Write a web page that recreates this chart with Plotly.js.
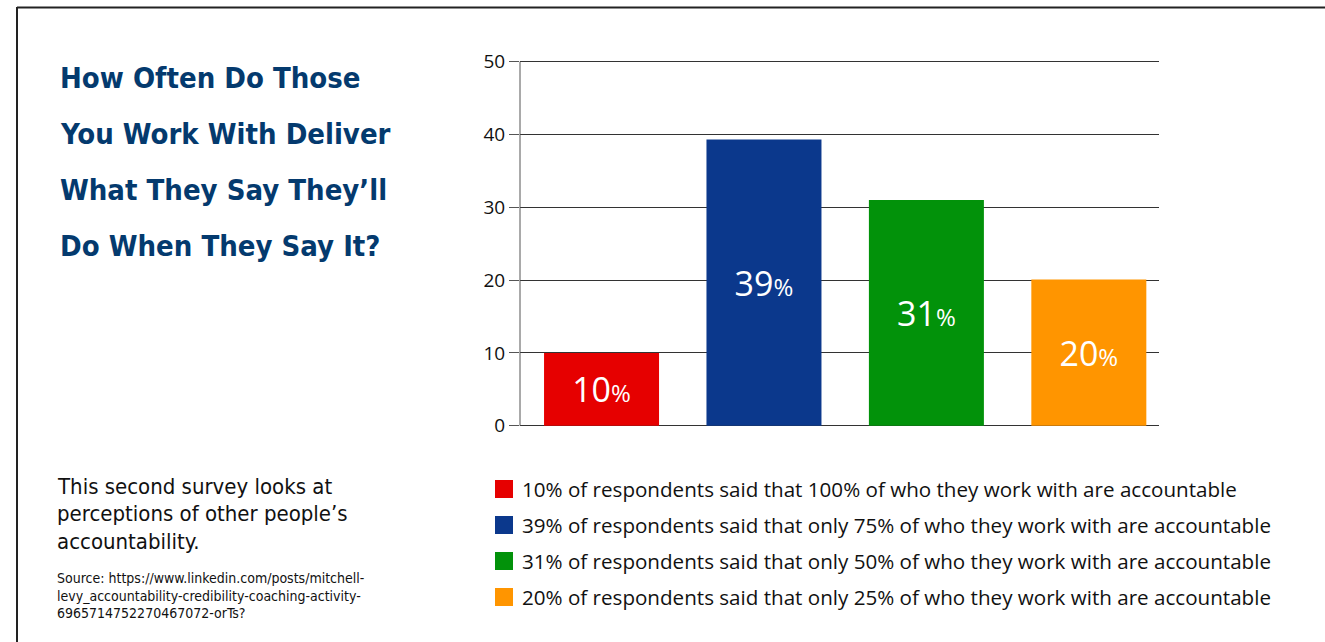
<!DOCTYPE html>
<html>
<head>
<meta charset="utf-8">
<script src="https://cdn.plot.ly/plotly-3.0.1.min.js"></script>
<style>html,body{margin:0;padding:0;background:#fff;}#chart{width:1325px;height:642px;}</style>
</head>
<body>
<div id="chart"></div>
<script>
// ---- data ----
const categories = ["All (100%)", "Only 75%", "Only 50%", "Only 25%"];
const values = [10, 39.3, 31, 20.1];
const barLabels = ["10", "39", "31", "20"];
const barColors = ["#E60000", "#0B388C", "#02920A", "#FF9500"];
const legendLabels = [
  "10% of respondents said that 100% of who they work with are accountable",
  "39% of respondents said that only 75% of who they work with are accountable",
  "31% of respondents said that only 50% of who they work with are accountable",
  "20% of respondents said that only 25% of who they work with are accountable"
];
const yTicks = [0, 10, 20, 30, 40, 50];
const titleLines = ["How Often Do Those", "You Work With Deliver", "What They Say They’ll", "Do When They Say It?"];
const noteLines = ["This second survey looks at", "perceptions of other people’s", "accountability."];
const sourceLines = ["Source: https://www.linkedin.com/posts/mitchell-", "levy_accountability-credibility-coaching-activity-", "6965714752270467072-orTs?"];

// ---- layout helpers (pixel -> paper) ----
const W = 1325, H = 642;
const px = x => x / W;
const py = y => (H - y) / H;

const condensed = "'Liberation Sans Narrow', 'DejaVu Sans Condensed', 'Roboto', sans-serif";
const body = "'Open Sans', 'Noto Sans', sans-serif";

const trace = {
  type: "bar",
  x: categories,
  y: values,
  marker: {color: barColors, line: {width: 0}},
  text: barLabels.map(t => t + "<span style='font-size:24px'>%</span>"),
  textposition: "inside",
  insidetextanchor: "middle",
  textangle: 0,
  textfont: {family: body, size: 34, color: "#ffffff"},
  hoverinfo: "x+y",
  cliponaxis: false
};

const annotations = [];
const shapes = [];

titleLines.forEach((t, i) => {
  annotations.push({
    xref: "paper", yref: "paper", x: px(58), y: py(78 + 56 * i),
    xanchor: "left", yanchor: "middle", showarrow: false,
    text: "<b>" + t + "</b>",
    font: {family: condensed, size: 29, color: "#043A6E"}
  });
});
noteLines.forEach((t, i) => {
  annotations.push({
    xref: "paper", yref: "paper", x: px(55), y: py(486 + 27.5 * i),
    xanchor: "left", yanchor: "middle", showarrow: false,
    text: t, font: {family: condensed, size: 22, color: "#111111"}
  });
});
sourceLines.forEach((t, i) => {
  annotations.push({
    xref: "paper", yref: "paper", x: px(55), y: py(578 + 17.5 * i),
    xanchor: "left", yanchor: "middle", showarrow: false,
    text: t, font: {family: condensed, size: 14, color: "#111111"}
  });
});
legendLabels.forEach((t, i) => {
  const yc = 489 + 36 * i;
  shapes.push({
    type: "rect", xref: "paper", yref: "paper",
    x0: px(495), x1: px(513), y0: py(yc - 9), y1: py(yc + 9),
    fillcolor: barColors[i], line: {width: 0}
  });
  annotations.push({
    xref: "paper", yref: "paper", x: px(520), y: py(yc),
    xanchor: "left", yanchor: "middle", showarrow: false,
    text: t, font: {family: body, size: 20.6, color: "#111111"}
  });
});

// frame lines
shapes.push({type: "line", xref: "paper", yref: "paper", x0: px(17), x1: px(1325), y0: py(7.5), y1: py(7.5), line: {color: "#222", width: 2}});
shapes.push({type: "line", xref: "paper", yref: "paper", x0: px(17), x1: px(17), y0: py(7), y1: py(642), line: {color: "#222", width: 2}});

const layout = {
  width: W, height: H,
  margin: {l: 0, r: 0, t: 0, b: 0},
  paper_bgcolor: "#ffffff", plot_bgcolor: "#ffffff",
  showlegend: false,
  bargap: 0.292,
  xaxis: {
    type: "category",
    domain: [px(520), px(1159)],
    range: [-0.502, 3.432],
    showticklabels: false, showgrid: false, zeroline: false,
    ticks: "", showline: false, fixedrange: true
  },
  yaxis: {
    domain: [py(427.2), py(60.2)],
    range: [-0.2, 50.2],
    tickvals: yTicks,
    ticktext: yTicks.map(String),
    ticks: "outside", ticklen: 10, tickcolor: "#555", tickwidth: 1,
    showline: false,
    showgrid: true, gridcolor: "#333", gridwidth: 1,
    zeroline: false,
    tickfont: {family: body, size: 19, color: "#111"},
    fixedrange: true
  },
  annotations: annotations,
  shapes: shapes.concat([
    {type: "line", xref: "x domain", yref: "y", x0: 0, x1: 0, y0: 0, y1: 50, line: {color: "#555", width: 1}}
  ]),
  font: {family: body}
};

Plotly.newPlot("chart", [trace], layout, {displayModeBar: false, staticPlot: true});
</script>
</body>
</html>
